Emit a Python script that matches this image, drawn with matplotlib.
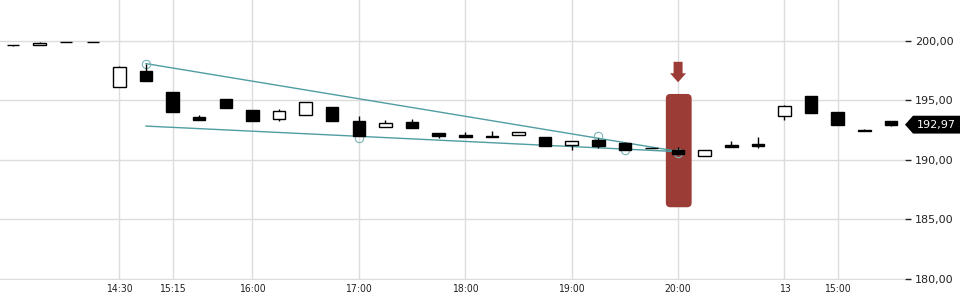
import matplotlib
matplotlib.use("Agg")
import matplotlib.pyplot as plt
from matplotlib.patches import Rectangle, FancyBboxPatch, Polygon
import matplotlib.transforms as mtransforms

# OHLC candles (15 min)
opens  = [199.66, 199.64, 199.89, 199.89, 196.17, 197.49, 195.73, 193.60, 195.10, 194.22,
          193.44, 193.77, 194.44, 193.29, 192.77, 193.18, 192.29, 192.12, 192.04, 192.10,
          191.93, 191.26, 191.70, 191.42, 191.00, 190.86, 190.30, 191.26, 191.34, 193.66,
          195.36, 194.05, 192.48, 193.24]
highs  = [199.68, 199.92, 199.90, 199.90, 197.90, 198.10, 195.73, 193.80, 195.10, 194.22,
          194.30, 194.86, 194.44, 193.66, 193.38, 193.46, 192.29, 192.35, 192.46, 192.37,
          191.93, 191.59, 191.85, 191.55, 191.02, 191.09, 190.83, 191.62, 191.93, 194.64,
          195.36, 194.05, 192.62, 193.24]
lows   = [199.57, 199.64, 199.88, 199.88, 196.17, 196.67, 194.00, 193.40, 194.33, 193.24,
          193.24, 193.77, 193.24, 191.98, 192.77, 192.65, 191.81, 191.93, 191.90, 192.10,
          191.14, 190.86, 190.97, 190.86, 190.98, 190.47, 190.30, 191.12, 191.03, 193.38,
          193.91, 192.96, 192.40, 192.88]
closes = [199.64, 199.83, 199.89, 199.89, 197.80, 196.67, 194.00, 193.40, 194.33, 193.24,
          194.10, 194.86, 193.24, 191.98, 193.10, 192.65, 191.98, 191.93, 191.90, 192.37,
          191.14, 191.59, 191.14, 190.86, 190.99, 190.47, 190.83, 191.12, 191.20, 194.53,
          193.91, 192.96, 192.40, 192.97]

tick_pos = [4, 6, 9, 13, 17, 21, 25, 29, 31]
tick_labels = ["14:30", "15:15", "16:00", "17:00", "18:00", "19:00", "20:00", "13", "15:00"]
y_ticks = [180, 185, 190, 195, 200]

# trend channel + touch points
upper_x, upper_y = [5, 25], [198.10, 190.72]
lower_x, lower_y = [5, 25], [192.85, 190.70]
touch_x = [5, 13, 22, 23, 25]
touch_y = [198.10, 191.84, 191.98, 190.84, 190.60]

signal_idx = 25
arrow_tip = 196.53
last_price = 192.97

teal = "#4f9da0"
red = "#9b3c36"

fig = plt.figure(figsize=(9.6, 3.0), dpi=100)
ax = fig.add_axes([0, 20 / 300, 905 / 960, 280 / 300])
ax.set_xlim(-0.489, 33.53)
ax.set_ylim(179.916, 203.445)

ax.set_yticks(y_ticks)
ax.set_yticklabels([f"{v:.2f}".replace(".", ",") for v in y_ticks])
ax.yaxis.tick_right()
ax.tick_params(axis="y", length=4, width=1, pad=3, labelsize=8, colors="#222222")
ax.set_xticks(tick_pos)
ax.set_xticklabels(tick_labels, fontsize=7.5, fontstretch="condensed", color="#222222")
ax.tick_params(axis="x", length=0, pad=3)
ax.grid(True, color="#dcdcdc", linewidth=1)
ax.set_axisbelow(True)
for s in ax.spines.values():
    s.set_visible(False)

# highlighted signal candle
hl = FancyBboxPatch((signal_idx - 0.46, 186.03), 0.97, 9.52,
                    boxstyle="round,pad=0,rounding_size=0.17",
                    mutation_aspect=2.2, facecolor=red, edgecolor="none", zorder=1)
ax.add_patch(hl)

# down arrow above it, shape given in pixels around the tip
arrow_trans = mtransforms.Affine2D() + mtransforms.ScaledTranslation(signal_idx, arrow_tip, ax.transData)
arrow = Polygon([(0, 0), (-8, 9), (-4.5, 9), (-4.5, 20.5), (4.5, 20.5), (4.5, 9), (8, 9)],
                closed=True, transform=arrow_trans, facecolor=red, edgecolor="none", zorder=3)
ax.add_patch(arrow)

# trend lines
ax.plot(upper_x, upper_y, color=teal, lw=1, zorder=2)
ax.plot(lower_x, lower_y, color=teal, lw=1, zorder=2)
ax.plot(touch_x, touch_y, "o", ms=6, mfc="none", mec="#79b3b6", mew=0.8, zorder=2)

# candles
w = 0.47
for i in range(len(opens)):
    o, h, l, c = opens[i], highs[i], lows[i], closes[i]
    ax.vlines(i, l, h, color="black", lw=1, zorder=4)
    bottom = min(o, c)
    ax.add_patch(Rectangle((i - w / 2, bottom), w, abs(c - o),
                           facecolor="white" if c > o else "black",
                           edgecolor="black", lw=1, zorder=5))

# last price tag
trans = mtransforms.blended_transform_factory(ax.transAxes, ax.transData)
k = 1 / 905
hh = 0.75
tag = Polygon([(905 * k, last_price), (913 * k, last_price + hh), (960 * k, last_price + hh),
               (960 * k, last_price - hh), (913 * k, last_price - hh)],
              closed=True, transform=trans, facecolor="black", edgecolor="none", clip_on=False, zorder=6)
ax.add_patch(tag)
ax.text(936 * k, last_price, f"{last_price:.2f}".replace(".", ","), transform=trans,
        color="white", fontsize=8, ha="center", va="center", zorder=7)

fig.savefig("out.png", dpi=100)
